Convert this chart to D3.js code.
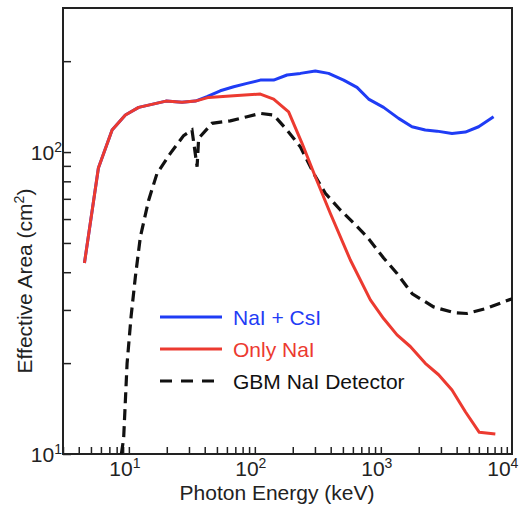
<!DOCTYPE html>
<html>
<head>
<meta charset="utf-8">
<script src="https://cdn.jsdelivr.net/npm/d3@7"></script>
<style>
  body { margin: 0; background: #fff; }
  svg text { font-family: "Liberation Sans", Arial, Helvetica, sans-serif; }
</style>
</head>
<body>
<svg id="chart"></svg>
<script>
// Photon energy (keV) / effective area (cm^2)
const redEnergy = [4.44, 5.73, 7.36, 9.38, 11.96, 19.7, 26.4, 33.7, 43.0, 67.9, 110.6, 141, 185.4, 237, 302, 397, 573, 826, 1052, 1345, 1714, 2254, 2876, 3673, 4690, 6050, 8110];
const redArea   = [42.9, 88.5, 118.3, 132.6, 140.6, 147.5, 146.1, 147.5, 151.7, 153.6, 155.6, 149.8, 135.9, 106.9, 82.8, 62.7, 43.9, 32.4, 28.1, 24.8, 22.7, 19.97, 18.3, 16.3, 13.8, 11.8, 11.65];

const blueEnergy = [4.44, 5.73, 7.36, 9.38, 11.96, 19.7, 26.4, 33.7, 41.7, 53.2, 67.9, 86.7, 110.6, 141, 180.1, 229.7, 302, 385, 507, 647, 800, 1052, 1384, 1768, 2254, 2793, 3673, 4690, 5975, 7855];
const blueArea   = [42.9, 88.5, 118.3, 132.6, 140.6, 147.5, 146.1, 147.5, 152.5, 159.6, 164.5, 168.8, 173.1, 173.1, 180.0, 182.2, 185.5, 182.2, 173.1, 163.8, 149.8, 140.6, 129.3, 121.3, 118.3, 117.3, 115.3, 116.5, 121.3, 130.9];

const gbmEnergy = [8.72, 9.09, 9.68, 10.41, 11.26, 12.34, 14.36, 16.74, 21.35, 27.2, 31.7, 34.8, 35.8, 45.7, 63.9, 86.7, 110.6, 141, 180.1, 229.7, 293, 362.7, 477, 608, 777, 1052, 1345, 1778, 2624, 3785, 4831, 6966, 11060];
const gbmArea   = [10.0, 11.27, 19.97, 28.5, 38.6, 52.4, 69.3, 85.0, 99.0, 113.4, 118.3, 89.4, 111.0, 124.5, 126.9, 130.9, 134.3, 132.6, 118.3, 104.1, 85.0, 73.0, 64.3, 58.2, 52.4, 44.6, 39.6, 33.9, 30.7, 29.4, 29.2, 30.4, 32.7];

const xMinorTicks = [3, 4, 5, 6, 7, 8, 9, 10, 20, 30, 40, 50, 60, 70, 80, 90, 100, 200, 300, 400, 500, 600, 700, 800, 900, 1000, 2000, 3000, 4000, 5000, 6000, 7000, 8000, 9000, 10000];
const yMinorTicks = [10, 20, 30, 40, 50, 60, 70, 80, 90, 100, 200];
const xDecades = [1, 2, 3, 4];
const yDecades = [1, 2];

const legendNames = ["NaI + CsI", "Only NaI", "GBM NaI Detector"];

const width = 521, height = 508;
const margin = {top: 8, right: 9, bottom: 54, left: 63};
const innerW = width - margin.left - margin.right;
const innerH = height - margin.top - margin.bottom;

const blue = "#1f3cf5", red = "#ec3a30";
const fontSize = 21;

const svg = d3.select("#chart")
    .attr("width", width)
    .attr("height", height);

const chart = svg.append("g")
    .attr("transform", `translate(${margin.left},${margin.top})`);

const xScale = d3.scaleLog().domain([3, 11000]).range([0, innerW]);
const yScale = d3.scaleLog().domain([10, 300]).range([innerH, 0]);

chart.append("defs").append("clipPath").attr("id", "clip")
  .append("rect").attr("width", innerW).attr("height", innerH);

// ticks point inward
const xAxis = d3.axisBottom(xScale).tickValues(xMinorTicks).tickSizeInner(-7).tickSizeOuter(0).tickFormat("");
const yAxis = d3.axisLeft(yScale).tickValues(yMinorTicks).tickSizeInner(-8).tickSizeOuter(0).tickFormat("");

const xAxisG = chart.append("g").attr("transform", `translate(0,${innerH})`).call(xAxis);
const yAxisG = chart.append("g").call(yAxis);
[xAxisG, yAxisG].forEach(g => {
  g.select(".domain").remove();
  g.selectAll(".tick line").attr("stroke", "#222").attr("stroke-width", 1.5);
});

// frame
chart.append("rect")
    .attr("width", innerW)
    .attr("height", innerH)
    .attr("fill", "none")
    .attr("stroke", "#222")
    .attr("stroke-width", 2);

// decade labels with superscripts
const xLab = chart.selectAll(".xlab").data(xDecades).join("text")
    .attr("class", "xlab")
    .attr("x", d => xScale(Math.pow(10, d)) - 4)
    .attr("y", innerH + 22)
    .attr("text-anchor", "middle")
    .attr("font-size", fontSize)
    .attr("fill", "#222");
xLab.append("tspan").text("10");
xLab.append("tspan").attr("font-size", 14).attr("dy", -8).text(d => d);

const yLab = chart.selectAll(".ylab").data(yDecades).join("text")
    .attr("class", "ylab")
    .attr("x", -1)
    .attr("y", d => yScale(Math.pow(10, d)) + 8)
    .attr("text-anchor", "end")
    .attr("font-size", fontSize)
    .attr("fill", "#222");
yLab.append("tspan").text("10");
yLab.append("tspan").attr("font-size", 14).attr("dy", -8).text(d => d);

// axis titles
svg.append("text")
    .attr("x", 277)
    .attr("y", 500)
    .attr("text-anchor", "middle")
    .attr("font-size", fontSize)
    .attr("fill", "#222")
    .text("Photon Energy (keV)");

const yTitle = svg.append("text")
    .attr("transform", "translate(32,281) rotate(-90)")
    .attr("text-anchor", "middle")
    .attr("font-size", fontSize)
    .attr("fill", "#222");
yTitle.append("tspan").text("Effective Area (cm");
yTitle.append("tspan").attr("font-size", 14).attr("dy", -8).text("2");
yTitle.append("tspan").attr("dy", 8).text(")");

// curves
const line = d3.line()
    .x(d => xScale(d[0]))
    .y(d => yScale(d[1]));

const marks = chart.append("g").attr("clip-path", "url(#clip)");

marks.append("path")
    .datum(d3.zip(gbmEnergy, gbmArea))
    .attr("fill", "none")
    .attr("stroke", "#111")
    .attr("stroke-width", 3.2)
    .attr("stroke-dasharray", "11,6")
    .attr("d", line);

marks.append("path")
    .datum(d3.zip(blueEnergy, blueArea))
    .attr("fill", "none")
    .attr("stroke", blue)
    .attr("stroke-width", 3)
    .attr("stroke-linejoin", "round")
    .attr("d", line);

marks.append("path")
    .datum(d3.zip(redEnergy, redArea))
    .attr("fill", "none")
    .attr("stroke", red)
    .attr("stroke-width", 3)
    .attr("stroke-linejoin", "round")
    .attr("d", line);

// legend
const legendColors = [blue, red, "#111"];
const legend = svg.append("g").attr("transform", "translate(160,317)");
legendNames.forEach((name, i) => {
  const row = legend.append("g").attr("transform", `translate(0,${i * 32})`);
  row.append("line")
      .attr("x1", 0).attr("x2", 62)
      .attr("stroke", legendColors[i])
      .attr("stroke-width", 3.2)
      .attr("stroke-dasharray", i === 2 ? "12,9" : null);
  row.append("text")
      .attr("x", 73)
      .attr("y", 8)
      .attr("font-size", fontSize)
      .attr("fill", i === 2 ? "#111" : legendColors[i])
      .text(name);
});
</script>
</body>
</html>
